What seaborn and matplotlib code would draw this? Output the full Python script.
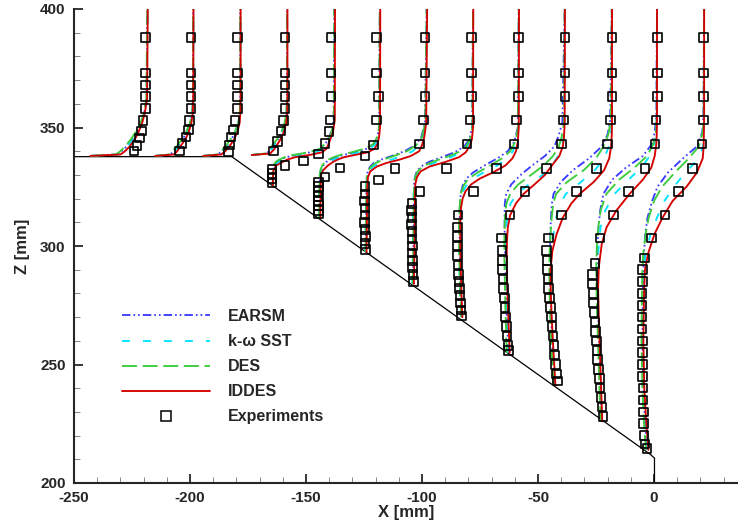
import numpy as np
import pandas as pd
import matplotlib
matplotlib.use('Agg')
import matplotlib.pyplot as plt
from matplotlib.lines import Line2D
from matplotlib.ticker import MultipleLocator
import seaborn as sns

# ramp wall
wall_x = [-250, -182, -1.5, 0.2, 0.2]
wall_z = [337.7, 337.7, 212, 210.5, 200]

# Z levels of each velocity profile (13 stations)
prof_z = [
    [338, 338.6, 340, 342, 345, 348, 352, 356, 362, 400],
    [338, 338.6, 340, 342, 345, 348, 352, 356, 362, 400],
    [338, 338.6, 340, 342, 345, 348, 352, 356, 362, 400],
    [338.4, 339, 340.5, 342.5, 345, 348, 352, 356, 362, 400],
    [325.5, 329, 332, 334, 335.5, 336.5, 337.5, 338.5, 339.5, 341, 344, 348, 353, 400],
    [311.7, 318, 325, 330, 332, 334, 335.5, 336.5, 337.5, 338.5, 339.5, 341, 343, 346, 350, 400],
    [297.5, 305, 315, 325, 329, 331.5, 333.5, 335, 336.5, 338, 340, 342.5, 346, 352, 400],
    [284, 295, 305, 315, 322, 326, 329, 331.5, 333.5, 335.5, 337.5, 339.5, 342, 345, 350, 400],
    [270, 280, 290, 300, 310, 316, 320, 323, 326, 328.5, 331, 334, 337, 340, 344, 350, 400],
    [255, 265, 275, 285, 295, 302, 308, 313, 318, 322, 326, 330, 334, 338, 342, 346, 352, 400],
    [241, 250, 260, 270, 280, 290, 298, 305, 312, 318, 322, 327, 332, 337, 342, 347, 353, 400],
    [226, 240, 255, 270, 282, 291, 301, 308, 315, 322, 328, 333, 338, 343, 348, 355, 400],
    [214, 225, 240, 260, 280, 290, 297, 305, 312, 319, 325, 331, 337, 342, 348, 355, 400],
]

earsm_x = [
    [-243, -231.5, -229.5, -227.3, -225, -223, -221, -219.8, -218.7, -218.4],
    [-215, -208.5, -207, -205.4, -203.2, -201.5, -199.9, -199, -198.7, -198.6],
    [-194.3, -188, -186.3, -184.3, -182.2, -180.5, -179.1, -178.5, -178.3, -178.3],
    [-173.4, -167, -165.5, -164, -162.2, -160.5, -159.1, -158.4, -158.2, -158.2],
    [-164.3, -164.3, -164.1, -163.8, -162.8, -161, -158.5, -154, -148.5, -143.8, -141, -139.2, -138.1, -137.8],
    [-144.3, -144.3, -144.2, -144, -143.6, -142.6, -141.2, -139.5, -137, -133.5, -129, -124, -120.8, -119.2, -118.5, -118.2],
    [-124.3, -124.2, -124.1, -124, -123.8, -123.4, -122.4, -120.8, -117.5, -113, -107.5, -103, -100.3, -98.7, -98],
    [-103.9, -103.7, -103.6, -103.6, -103.5, -103.4, -103.1, -102.2, -100.5, -97, -91.5, -86, -81.8, -79.6, -78.4, -78],
    [-82.8, -83.3, -83.6, -83.8, -83.8, -83.7, -83.5, -83.1, -82.3, -80.8, -78, -73, -67.5, -63, -60.2, -58.7, -58.3],
    [-62.8, -63.2, -63.6, -63.9, -64.2, -64.3, -64.4, -64.4, -64.3, -63.7, -61.5, -57.5, -52.5, -47, -43, -41.3, -39.5, -38.5],
    [-42.7, -43.3, -43.9, -44.3, -44.6, -44.8, -44.8, -44.7, -44.4, -44, -43.3, -40.2, -34.9, -28, -22.5, -20, -18.9, -18.2],
    [-22.5, -23, -23.5, -24, -24.3, -24.4, -24.3, -23.9, -23.2, -21.8, -18, -12.2, -4.8, -0.9, 0.3, 1, 1.3],
    [-3, -3.8, -4.6, -5, -4.8, -4.6, -4.3, -3.8, -2.8, -0.8, 1.5, 6, 12.5, 18.5, 20.8, 21.3, 21.6],
]

sst_x = [
    [-243, -231, -229, -227, -224.6, -222.8, -220.9, -219.7, -218.6, -218.3],
    [-215, -208, -206.5, -205, -202.8, -201.2, -199.7, -198.9, -198.6, -198.5],
    [-194.3, -187.5, -185.8, -183.8, -181.8, -180.2, -178.9, -178.4, -178.2, -178.2],
    [-173.4, -166.5, -165, -163.5, -161.8, -160.2, -158.9, -158.3, -158.1, -158.1],
    [-164.2, -164.1, -163.9, -163.3, -161.5, -159.5, -156.5, -151, -146, -142.5, -140.5, -138.8, -137.8, -137.6],
    [-144.5, -144.5, -144.4, -144.1, -143.4, -142, -140, -138, -135.5, -131.5, -127, -122.5, -120, -118.9, -118.3, -118.1],
    [-124.5, -124.4, -124.2, -124.1, -123.7, -123, -121, -118, -113, -108.5, -104, -101.2, -99.5, -98.4, -97.9],
    [-104.2, -104, -103.9, -103.8, -103.6, -103.3, -102.8, -101.3, -98.8, -93.5, -87.5, -83.2, -80.5, -79, -78.2, -78],
    [-83.2, -83.6, -83.9, -84, -84, -83.7, -83.2, -82.4, -80.6, -78, -73.5, -67.5, -63.2, -60.8, -59.3, -58.5, -58.2],
    [-63, -63.4, -63.8, -64, -64.1, -64, -63.7, -63.1, -61.8, -59, -54, -48, -44, -41.3, -39.7, -38.9, -38.5, -38.4],
    [-43, -43.5, -44.1, -44.5, -44.8, -44.7, -44.2, -43.3, -42.2, -40.3, -38, -31.5, -25.5, -21.5, -19.5, -18.6, -18.2, -18.1],
    [-22.7, -23.2, -23.7, -24.2, -24.5, -24.4, -23.8, -23, -21, -17, -11, -5.5, -1.8, 0.2, 0.9, 1.2, 1.3],
    [-3.2, -4, -4.8, -5.2, -5, -4.6, -3.5, -1.5, 1.3, 4.5, 8.6, 13.5, 19.5, 21.1, 21.4, 21.5, 21.6],
]

des_x = [
    [-243, -232, -230, -228, -225.5, -223.5, -221.3, -219.9, -218.8, -218.4],
    [-215, -209, -207.5, -205.8, -203.5, -201.7, -200, -199.1, -198.7, -198.6],
    [-194.3, -188.5, -186.8, -184.8, -182.5, -180.7, -179.2, -178.6, -178.3, -178.3],
    [-173.4, -167.5, -166, -164.5, -162.5, -160.7, -159.2, -158.5, -158.2, -158.2],
    [-164.3, -164.3, -164.1, -164, -163, -161.5, -159, -155, -149, -144, -141, -139, -138, -137.8],
    [-144.3, -144.3, -144.2, -144, -143.8, -143, -141.8, -140.3, -138, -135, -130.5, -125, -121, -119.3, -118.5, -118.2],
    [-124.3, -124.2, -124.1, -124, -123.8, -123.3, -122, -120, -116.5, -112, -106.5, -102.5, -100, -98.6, -98],
    [-104, -103.8, -103.7, -103.6, -103.5, -103.3, -103, -101.8, -99.8, -95.5, -89.5, -84.5, -81, -79.3, -78.3, -78],
    [-83, -83.5, -83.8, -84, -84, -83.8, -83.5, -83, -81.8, -79.8, -76, -70.5, -65.5, -62, -59.8, -58.6, -58.3],
    [-63.5, -63.8, -64.1, -64.3, -64.5, -64.5, -64.4, -64.2, -63.6, -62, -58.5, -53, -47.5, -43.5, -41, -39.8, -38.8, -38.5],
    [-43.2, -43.8, -44.3, -44.7, -45, -45.1, -45, -44.6, -44.1, -43.4, -42.2, -37.5, -30.3, -25, -21.8, -19.7, -18.6, -18.2],
    [-23, -23.5, -24, -24.5, -24.8, -24.9, -24.6, -24, -23, -20.5, -15, -8.5, -3, -0.3, 0.8, 1.2, 1.3],
    [-3.5, -4.3, -5, -5.4, -5.2, -5, -4.6, -3.6, -2.3, 0, 3.5, 9, 15, 19.3, 21, 21.4, 21.6],
]

iddes_x = [
    [-243, -230, -228, -226, -223.8, -222.2, -220.6, -219.5, -218.5, -218.2],
    [-215, -207, -205.5, -204.2, -202, -200.6, -199.4, -198.8, -198.6, -198.5],
    [-194.3, -186.5, -184.8, -183, -181, -179.6, -178.6, -178.3, -178.2, -178.2],
    [-173.4, -165.5, -164, -162.6, -161, -159.6, -158.5, -158.1, -158, -158],
    [-164.3, -164.2, -164, -162.8, -160, -158, -154.5, -148, -143.2, -141.2, -139.9, -138.4, -137.6, -137.5],
    [-143.8, -143.8, -143.7, -143.5, -142.6, -140.5, -138.3, -136.3, -133.5, -128.5, -123.5, -120.5, -119.2, -118.5, -118.1, -118],
    [-123.9, -123.8, -123.7, -123.6, -123.3, -122.3, -119.5, -115.5, -109.5, -104.8, -101.2, -100, -99, -98.2, -97.8],
    [-103.5, -103.3, -103.2, -103.1, -103, -102.9, -102.2, -100.6, -96.8, -89.8, -84, -81.2, -79.5, -78.5, -78, -77.9],
    [-82.6, -83, -83.3, -83.5, -83.5, -83.2, -82.5, -81.3, -78.8, -75, -69.5, -64, -61, -59.5, -58.7, -58.3, -58.2],
    [-62.2, -62.6, -63, -63.3, -63.5, -63.4, -63, -62, -59.5, -56.2, -51.5, -47, -44, -40.8, -39.3, -38.8, -38.5, -38.4],
    [-42.5, -43, -43.6, -44.1, -44.5, -44.6, -43.8, -42, -39.3, -35.6, -32, -26, -21.5, -19.3, -18.5, -18.2, -18.1, -18.1],
    [-22.3, -22.8, -23.3, -23.8, -24.1, -23.8, -22.5, -20.4, -16.2, -10.5, -4.8, -1.2, 0.3, 1, 1.2, 1.3, 1.3],
    [-2.4, -3.3, -4.2, -4.6, -4.3, -3.9, -2.5, 0.2, 3.7, 8, 14, 18.5, 21, 21.4, 21.5, 21.6, 21.6],
]

# experiments
exp_z = [
    [388, 373, 368, 363, 358, 353, 348.5, 345.5, 342.5, 340],
    [388, 373, 368, 363, 358, 353, 349, 346, 343.3, 340],
    [388, 373, 368, 363, 358, 353, 349, 346, 342.6, 339.8],
    [388, 373, 368, 363, 358, 353, 348.5, 344, 340],
    [388, 373, 363, 353.2, 348.2, 343.3, 338.8, 335.9, 334, 332.5, 330.5, 328.5, 326.5],
    [388, 373, 363, 353.2, 342.6, 338, 333, 329.1, 327, 325, 323, 321, 319, 317, 315, 313.5],
    [388, 373, 363, 353.2, 343, 332.8, 327.8, 325, 322, 319, 316, 313, 310, 307, 304, 301, 298.5],
    [388, 373, 363, 353.2, 343, 332.8, 322.9, 318, 315, 312, 309, 306, 303, 300, 297, 294, 291, 288, 285],
    [388, 373, 363, 353.2, 343, 332.8, 322.9, 313.1, 308, 304, 300, 296, 292, 288, 285, 282, 279, 276, 273, 270.5],
    [388, 373, 363, 353.2, 343, 332.8, 322.9, 313.1, 303.3, 298, 294, 290, 286, 282, 278, 274, 270, 266, 262, 258, 256],
    [388, 373, 363, 353.2, 343, 332.8, 322.9, 313.1, 303.3, 298, 294, 290, 286, 282, 278, 274, 270, 266, 262, 258, 254, 250, 246, 243],
    [388, 373, 363, 353.2, 343, 332.8, 322.9, 313.1, 303.3, 292.7, 288, 284, 280, 276, 272, 268, 264, 260, 256, 252, 248, 244, 240, 236, 232, 228],
    [388, 373, 363, 353.2, 343, 332.8, 322.9, 313.1, 303.3, 295, 290, 285, 280, 275, 270, 265, 260, 255, 250, 245, 240, 235, 230, 225, 220, 216.5, 214.5],
]
exp_x = [
    [-219.3, -219.1, -219.1, -219.1, -219.2, -220.2, -221, -221.8, -222.9, -224.2],
    [-199.6, -199.6, -199.6, -199.6, -199.6, -200.3, -200.7, -201.7, -203.4, -204.6],
    [-179.6, -179.6, -179.6, -179.6, -179.6, -180.6, -181.3, -182.3, -183, -183.5],
    [-159.1, -159.1, -159.1, -159.1, -159.1, -159.8, -160.7, -162.2, -164],
    [-139.2, -139.2, -139.2, -139.7, -140, -141.8, -144.7, -151.2, -159.1, -164.6, -164.6, -164.6, -164.6],
    [-119.5, -119.5, -118.8, -119.5, -121, -124.6, -135.3, -141.8, -144.7, -144.7, -144.7, -144.9, -144.7, -144.5, -144.7, -144.5],
    [-98.7, -98.7, -98.7, -99.4, -101.2, -111.6, -118.8, -124.6, -124.6, -124.8, -124.6, -124.6, -124.8, -124.6, -124.4, -124.6, -124.3],
    [-78.6, -78.6, -78.6, -79.3, -80.7, -89.4, -100.9, -104.4, -104.6, -104.4, -104.6, -104.4, -104.4, -104.2, -104.4, -104.2, -104, -103.8, -103.6],
    [-58.5, -58.5, -58.5, -59.2, -60.3, -67.8, -77.9, -84.4, -84.8, -84.8, -84.6, -84.6, -84.4, -84.2, -84, -83.8, -83.6, -83.4, -83.2, -83],
    [-38.4, -38.4, -38.4, -39.1, -39.8, -46.3, -55.6, -62.1, -65.7, -65.6, -65.4, -65.2, -65, -64.8, -64.5, -64.2, -63.9, -63.6, -63.3, -62.9, -62.6],
    [-18.2, -18.2, -18.2, -18.8, -20.1, -24.7, -33.3, -39.8, -45.6, -46.3, -46.2, -46, -45.7, -45.4, -45, -44.6, -44.3, -44, -43.6, -43.2, -42.8, -42.4, -42, -41.6],
    [1.4, 1.4, 1.4, 0.9, 0.4, -3.9, -11.1, -17.5, -23.3, -25.4, -26.5, -26.4, -26.2, -26, -25.8, -25.5, -25.2, -24.9, -24.6, -24.3, -24, -23.6, -23.2, -22.8, -22.4, -22],
    [21.3, 21.3, 21.3, 21.3, 20.6, 16.7, 10.5, 4.7, -1, -4.2, -5, -5, -5.2, -5.2, -5.2, -5.2, -5, -5, -5, -5, -4.8, -4.8, -4.6, -4.6, -4.3, -3.8, -3],
]

models = ['EARSM', 'k-ω SST', 'DES', 'IDDES']
model_x = [earsm_x, sst_x, des_x, iddes_x]
colors = {'EARSM': '#3c3cff', 'k-ω SST': '#00e4ff', 'DES': '#3ccc3c', 'IDDES': '#d40000'}
dashes = {'EARSM': (4.5, 1.6, 0.9, 1.6, 0.9, 1.6), 'k-ω SST': (4.2, 7), 'DES': (8, 3), 'IDDES': ''}

rows = []
for name, xs in zip(models, model_x):
    for k, (zz, xx) in enumerate(zip(prof_z, xs)):
        for x, z in zip(xx, zz):
            rows.append((x, z, name, k))
df = pd.DataFrame(rows, columns=['x', 'z', 'model', 'station'])

ex = [v for row in exp_x for v in row]
ez = [v for row in exp_z for v in row]

sns.set_theme(style='ticks')
plt.rcParams['font.family'] = ['Liberation Sans', 'DejaVu Sans']
plt.rcParams['font.weight'] = 'bold'
plt.rcParams['axes.unicode_minus'] = False

fig = plt.figure(figsize=(7.38, 5.28), dpi=100)
ax = fig.add_axes([74 / 738, 45 / 528, 664 / 738, 474 / 528])

ax.plot(wall_x, wall_z, color='black', lw=0.9, zorder=1)

sns.lineplot(data=df, x='x', y='z', hue='model', style='model', units='station',
             estimator=None, sort=False, hue_order=models, style_order=models,
             palette=colors, dashes=dashes, linewidth=1.35, legend=False, ax=ax, zorder=2)

sns.scatterplot(x=ex, y=ez, marker='s', s=38, facecolors='none', edgecolor='black',
                linewidth=1.2, ax=ax, zorder=3)

ax.set_xlim(-250, 36.2)
ax.set_ylim(200, 400)
ax.xaxis.set_major_locator(MultipleLocator(50))
ax.xaxis.set_minor_locator(MultipleLocator(10))
ax.yaxis.set_major_locator(MultipleLocator(50))
ax.yaxis.set_minor_locator(MultipleLocator(10))
ax.tick_params(which='major', direction='in', length=6.5, width=1.3, labelsize=11, pad=6)
ax.tick_params(which='minor', direction='in', length=4, width=0.6, color='0.45')
for lab in ax.get_xticklabels() + ax.get_yticklabels():
    lab.set_fontweight('bold')
sns.despine(ax=ax)
for s in ['left', 'bottom']:
    ax.spines[s].set_linewidth(1.5)

ax.set_xlabel('X [mm]', fontsize=12, fontweight='bold', labelpad=0)
ax.set_ylabel('Z [mm]', fontsize=12, fontweight='bold', labelpad=7)

handles = [Line2D([], [], color=colors[m], lw=1.35, dashes=dashes[m] if dashes[m] else (None, None))
           for m in models]
handles.append(Line2D([], [], ls='none', marker='s', markersize=6.5, markerfacecolor='none',
                      markeredgecolor='black', markeredgewidth=1.1))
ax.legend(handles, models + ['Experiments'], loc='upper left', bbox_to_anchor=(0.072, 0.367),
          frameon=False, fontsize=11.5, handlelength=5.5, handletextpad=1.15,
          labelspacing=0.63, borderpad=0, borderaxespad=0)

fig.savefig('out.png', dpi=100)
